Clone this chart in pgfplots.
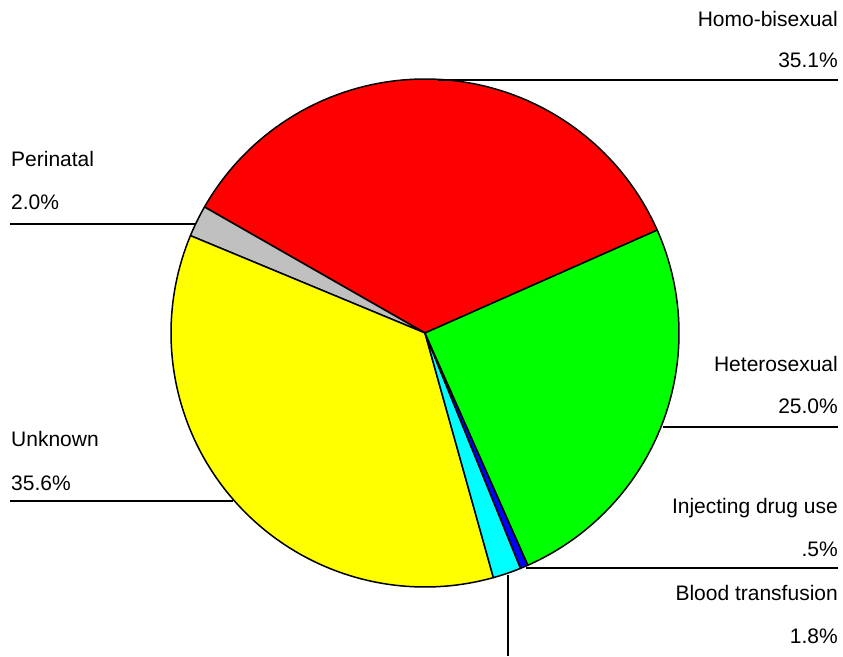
\documentclass[border=0pt]{standalone}
\usepackage{fontspec}
\setmainfont{Liberation Sans}
\usepackage{pgfplots}
\pgfplotsset{compat=1.18}
\definecolor{cRed}{HTML}{FF0000}
\definecolor{cGrey}{HTML}{C0C0C0}
\definecolor{cYellow}{HTML}{FFFF00}
\definecolor{cCyan}{HTML}{00FFFF}
\definecolor{cBlue}{HTML}{0000FF}
\definecolor{cGreen}{HTML}{00FF00}
% shares (percent), counter-clockwise from the start angle
\def\pHomo{35.1}
\def\pPeri{2.0}
\def\pUnkn{35.6}
\def\pBlood{1.8}
\def\pIdu{0.5}
\def\pHetero{25.0}
\pgfmathsetmacro\aA{23.9}
\pgfmathsetmacro\aB{\aA+\pHomo*3.6}
\pgfmathsetmacro\aC{\aB+\pPeri*3.6}
\pgfmathsetmacro\aD{\aC+\pUnkn*3.6}
\pgfmathsetmacro\aE{\aD+\pBlood*3.6}
\pgfmathsetmacro\aF{\aE+\pIdu*3.6}
\pgfmathsetmacro\aG{\aF+\pHetero*3.6}
\newcommand\slice[3]{%
  \addplot[fill=#1, draw=black, line width=1.5pt, line join=round, domain=#2:#3, samples=90, variable=\t]
    ({425+254*cos(t)},{323+254*sin(t)}) -- (axis cs:425,323) -- cycle;}
\newcommand\lab{\fontsize{21}{25}\selectfont}
\begin{document}
\begin{tikzpicture}
\begin{axis}[
  width=843pt, height=656pt, scale only axis,
  xmin=0, xmax=843, ymin=0, ymax=656,
  hide axis, clip=false]
\path (axis cs:0,0) rectangle (axis cs:843,656);
\slice{cRed}{\aA}{\aB}
\slice{cGrey}{\aB}{\aC}
\slice{cYellow}{\aC}{\aD}
\slice{cCyan}{\aD}{\aE}
\slice{cBlue}{\aE}{\aF}
\slice{cGreen}{\aF}{\aG}
% leader lines
\addplot[black, line width=1.4pt] coordinates {(438,576) (838,576)};
\addplot[black, line width=1.4pt] coordinates {(10,432) (196,432)};
\addplot[black, line width=1.4pt] coordinates {(663,229) (838,229)};
\addplot[black, line width=1.4pt] coordinates {(10,155) (233,155)};
\addplot[black, line width=1.4pt] coordinates {(526,88) (838,88)};
\addplot[black, line width=1.4pt] coordinates {(508,81) (508,0)};
% labels
\node[anchor=base east, font=\lab, inner sep=0pt] at (axis cs:838,629) {Homo-bisexual};
\node[anchor=base east, font=\lab, inner sep=0pt] at (axis cs:838,588) {35.1\%};
\node[anchor=base west, font=\lab, inner sep=0pt] at (axis cs:11,489) {Perinatal};
\node[anchor=base west, font=\lab, inner sep=0pt] at (axis cs:11,446) {2.0\%};
\node[anchor=base east, font=\lab, inner sep=0pt] at (axis cs:838,284) {Heterosexual};
\node[anchor=base east, font=\lab, inner sep=0pt] at (axis cs:838,242) {25.0\%};
\node[anchor=base west, font=\lab, inner sep=0pt] at (axis cs:11,210) {Unknown};
\node[anchor=base west, font=\lab, inner sep=0pt] at (axis cs:11,166) {35.6\%};
\node[anchor=base east, font=\lab, inner sep=0pt] at (axis cs:838,143) {Injecting drug use};
\node[anchor=base east, font=\lab, inner sep=0pt] at (axis cs:838,100) {.5\%};
\node[anchor=base east, font=\lab, inner sep=0pt] at (axis cs:838,56) {Blood transfusion};
\node[anchor=base east, font=\lab, inner sep=0pt] at (axis cs:838,13) {1.8\%};
\end{axis}
\end{tikzpicture}
\end{document}
